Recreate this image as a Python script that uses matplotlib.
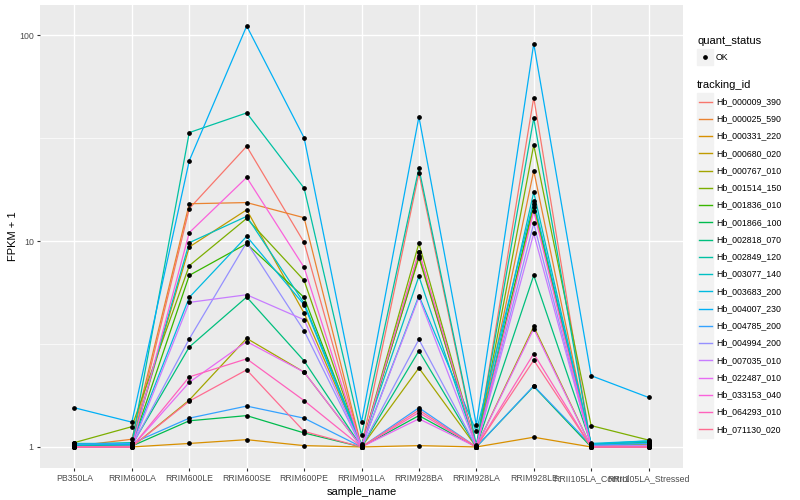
import numpy as np
import matplotlib
matplotlib.use('Agg')
import matplotlib.pyplot as plt
from matplotlib.patches import Rectangle
from matplotlib.ticker import NullFormatter

plt.rcParams['font.family'] = ['Liberation Sans', 'DejaVu Sans']

samples = ['PB350LA', 'RRIM600LA', 'RRIM600LE', 'RRIM600SE', 'RRIM600PE', 'RRIM901LA',
           'RRIM928BA', 'RRIM928LA', 'RRIM928LE', 'RRII105LA_Control', 'RRII105LA_Stressed']

tracking_ids = ['Hb_000009_390', 'Hb_000025_590', 'Hb_000331_220', 'Hb_000680_020',
                'Hb_000767_010', 'Hb_001514_150', 'Hb_001836_010', 'Hb_001866_100',
                'Hb_002818_070', 'Hb_002849_120', 'Hb_003077_140', 'Hb_003683_200',
                'Hb_004007_230', 'Hb_004785_200', 'Hb_004994_200', 'Hb_007035_010',
                'Hb_022487_010', 'Hb_033153_040', 'Hb_064293_010', 'Hb_071130_020']

# ggplot hue palette, 20 levels
cores = ['#F8766D', '#EA8331', '#D89000', '#C09B00', '#A3A500', '#7CAE00', '#39B600',
         '#00BB4E', '#00BF7D', '#00C1A3', '#00BFC4', '#00BAE0', '#00B0F6', '#35A2FF',
         '#9590FF', '#C77CFF', '#E76BF3', '#FA62DB', '#FF62BC', '#FF6C91']

# FPKM + 1, na ordem de samples
hb_000009_390 = [1.02, 1.03, 14.4, 28.9, 9.86, 1.00, 21.4, 1.00, 49.9, 1.01, 1.01]
hb_000025_590 = [1.01, 1.09, 15.2, 15.4, 13.0, 1.00, 8.86, 1.00, 22.0, 1.00, 1.02]
hb_000331_220 = [1.00, 1.00, 1.04, 1.085, 1.015, 1.00, 1.015, 1.00, 1.115, 1.00, 1.00]
hb_000680_020 = [1.03, 1.04, 9.37, 14.2, 4.47, 1.02, 8.31, 1.00, 14.6, 1.00, 1.03]
hb_000767_010 = [1.01, 1.00, 1.69, 3.37, 2.31, 1.00, 2.42, 1.00, 3.85, 1.00, 1.00]
hb_001514_150 = [1.05, 1.255, 7.60, 12.9, 6.45, 1.00, 9.76, 1.00, 29.3, 1.27, 1.08]
hb_001836_010 = [1.02, 1.02, 6.82, 9.72, 5.33, 1.00, 8.45, 1.00, 15.2, 1.02, 1.04]
hb_001866_100 = [1.04, 1.01, 1.34, 1.42, 1.17, 1.00, 1.42, 1.00, 1.97, 1.00, 1.00]
hb_002818_070 = [1.01, 1.02, 3.06, 5.35, 2.62, 1.00, 2.93, 1.00, 6.82, 1.03, 1.05]
hb_002849_120 = [1.03, 1.05, 33.7, 42.0, 18.1, 1.14, 22.6, 1.02, 39.6, 1.01, 1.06]
hb_003077_140 = [1.04, 1.04, 9.83, 13.2, 5.00, 1.03, 6.75, 1.00, 17.3, 1.03, 1.07]
hb_003683_200 = [1.02, 1.03, 5.33, 10.55, 4.91, 1.00, 5.43, 1.19, 15.7, 1.04, 1.07]
hb_004007_230 = [1.55, 1.32, 24.6, 111.0, 31.8, 1.32, 40.2, 1.28, 91.2, 2.22, 1.74]
hb_004785_200 = [1.03, 1.04, 1.38, 1.58, 1.38, 1.00, 1.55, 1.00, 1.98, 1.02, 1.04]
hb_004994_200 = [1.00, 1.01, 3.35, 9.86, 3.67, 1.00, 3.33, 1.00, 12.2, 1.00, 1.02]
hb_007035_010 = [1.00, 1.00, 5.04, 5.49, 4.15, 1.00, 5.34, 1.00, 10.9, 1.01, 1.01]
hb_022487_010 = [1.00, 1.00, 2.06, 3.25, 2.31, 1.00, 1.37, 1.00, 3.75, 1.00, 1.00]
hb_033153_040 = [1.00, 1.00, 11.0, 20.4, 7.46, 1.00, 8.86, 1.00, 14.0, 1.00, 1.00]
hb_064293_010 = [1.00, 1.00, 2.19, 2.68, 1.68, 1.00, 1.47, 1.00, 2.84, 1.00, 1.00]
hb_071130_020 = [1.00, 1.00, 1.67, 2.37, 1.19, 1.00, 1.51, 1.00, 2.64, 1.00, 1.00]

valores = [hb_000009_390, hb_000025_590, hb_000331_220, hb_000680_020, hb_000767_010,
           hb_001514_150, hb_001836_010, hb_001866_100, hb_002818_070, hb_002849_120,
           hb_003077_140, hb_003683_200, hb_004007_230, hb_004785_200, hb_004994_200,
           hb_007035_010, hb_022487_010, hb_033153_040, hb_064293_010, hb_071130_020]

fig = plt.figure(figsize=(8, 5), dpi=100)
ax = fig.add_axes([40/800, 1 - 468/500, (683 - 40)/800, (468 - 5)/500])
ax.set_facecolor('#EBEBEB')

x = np.arange(len(samples))
for serie, cor in zip(valores, cores):
    ax.plot(x, serie, color=cor, linewidth=0.9, zorder=2)
for serie in valores:
    ax.plot(x, serie, 'o', color='black', markersize=2.4, linestyle='none', zorder=3)

ax.set_yscale('log')
todos = np.log10(np.concatenate(valores))
lo, hi = todos.min(), todos.max()
pad = 0.05*(hi - lo)
ax.set_ylim(10**(lo - pad), 10**(hi + pad))
ax.set_xlim(-0.6, len(samples) - 0.4)

ax.set_yticks([1, 10, 100])
ax.set_yticklabels(['1', '10', '100'])
ax.set_yticks([10**0.5, 10**1.5], minor=True)
ax.yaxis.set_minor_formatter(NullFormatter())
ax.set_xticks(x)
ax.set_xticklabels(samples)

ax.grid(which='major', color='white', linewidth=1.0)
ax.grid(which='minor', axis='y', color='white', linewidth=0.5)
ax.set_axisbelow(True)
ax.tick_params(which='minor', length=0)
ax.tick_params(which='major', length=2.5, width=0.8, color='#333333',
               labelsize=6.3, labelcolor='#4D4D4D', pad=2)
for s in ax.spines.values():
    s.set_visible(False)

ax.set_xlabel('sample_name', fontsize=8, labelpad=3)
ax.set_ylabel('FPKM + 1', fontsize=8, labelpad=0.5)

# legenda no estilo ggplot
lax = fig.add_axes([0, 0, 1, 1])
lax.set_xlim(0, 800)
lax.set_ylim(500, 0)
lax.axis('off')

lax.text(697, 40.5, 'quant_status', fontsize=8, va='center')
lax.add_patch(Rectangle((697, 49), 16, 16, color='#F2F2F2'))
lax.plot(705, 57, 'o', color='black', markersize=2.4)
lax.text(716, 57, 'OK', fontsize=6.3, va='center')

lax.text(697, 85, 'tracking_id', fontsize=8, va='center')
for i, (tid, cor) in enumerate(zip(tracking_ids, cores)):
    yc = 101.5 + i*17.26
    lax.add_patch(Rectangle((697, yc - 8.1), 16, 16.2, color='#F2F2F2'))
    lax.plot([698.5, 711.5], [yc, yc], color=cor, linewidth=1.0)
    lax.text(716, yc, tid, fontsize=6.3, va='center')

fig.savefig('out.png', dpi=100)
